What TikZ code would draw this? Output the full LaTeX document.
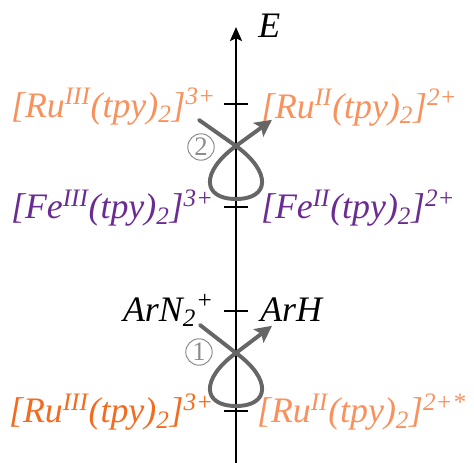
\documentclass[tikz,border=0pt]{standalone}
\usepackage{fontspec}
\setmainfont{Liberation Serif}
\usepackage{tikz}
\usetikzlibrary{positioning,arrows.meta}
\definecolor{rulight}{HTML}{F8915C}
\definecolor{rudark}{HTML}{F26B1F}
\definecolor{fepurple}{HTML}{6B2C91}
\definecolor{loopgray}{HTML}{666666}
\definecolor{numgray}{HTML}{8C8C8C}

\begin{document}
\begin{tikzpicture}[
  lbl/.style={inner sep=0pt, font=\fontsize{25.5}{30}\selectfont\itshape},
  tick/.style={line width=1.8pt},
  redox/.style={line width=2.8pt, loopgray, line cap=round,
                -{Stealth[length=12pt, width=12pt, inset=2.5pt]}},
  num/.style={circle, draw=numgray, line width=0.7pt, text=numgray,
              minimum size=0.66cm, inner sep=0pt, font=\fontsize{19}{20}\selectfont}
]
\useasboundingbox (0,0) rectangle (11.85,11.575);

% energy axis
\coordinate (bot) at (5.9,0);
\coordinate (top) at (5.9,10.9);
\draw[line width=1.8pt, -{Stealth[length=10pt, width=8.5pt, inset=2pt]}] (bot) -- (top);
\node[lbl, anchor=base west] (elab) at (6.45,10.625) {E};

% levels on the axis
\coordinate (ru) at (5.9,8.975);
\coordinate (fe) at (5.9,6.4);
\coordinate (ar) at (5.9,3.8);
\coordinate (rux) at (5.9,1.3);
\foreach \c in {ru,fe,ar,rux}
  \draw[tick] (\c) ++(-0.29,0) -- ++(0.58,0);

\node[lbl, rulight, anchor=base east] (ruox) at ([shift={(-0.5,-0.33)}]ru)
  {[Ru\textsuperscript{III}(tpy)\textsubscript{2}]\textsuperscript{3+}};
\node[lbl, rulight, anchor=base west] (rured) at ([shift={(0.62,-0.36)}]ru)
  {[Ru\textsuperscript{II}(tpy)\textsubscript{2}]\textsuperscript{2+}};
\node[lbl, fepurple, anchor=base east] (feox) at ([shift={(-0.55,-0.3)}]fe)
  {[Fe\textsuperscript{III}(tpy)\textsubscript{2}]\textsuperscript{3+}};
\node[lbl, fepurple, anchor=base west] (fered) at ([shift={(0.62,-0.3)}]fe)
  {[Fe\textsuperscript{II}(tpy)\textsubscript{2}]\textsuperscript{2+}};
\node[lbl, anchor=base east] (arn) at ([shift={(-0.55,-0.26)}]ar)
  {ArN\textsubscript{2}\textsuperscript{+}};
\node[lbl, anchor=base west] (arh) at ([shift={(0.6,-0.26)}]ar) {ArH};
\node[lbl, rudark, anchor=base east] (ruoxb) at ([shift={(-0.55,-0.3)}]rux)
  {[Ru\textsuperscript{III}(tpy)\textsubscript{2}]\textsuperscript{3+}};
\node[lbl, rulight, anchor=base west] (ruexc) at ([shift={(0.52,-0.3)}]rux)
  {[Ru\textsuperscript{II}(tpy)\textsubscript{2}]\textsuperscript{2+*}};

% step 2
\coordinate (s2) at (4.975,8.575);
\coordinate (x2) at (5.9,7.925);
\coordinate (b2) at (5.9,6.6);
\coordinate (e2) at (6.8,8.58);
\draw[redox] (s2) -- (x2) .. controls +(-36:1.1) and +(0.85,0) .. (b2)
  .. controls +(-0.85,0) and +(-144:1.1) .. (x2) -- (e2);
\node[num] (n2) at (5.025,7.9) {2};

% step 1
\coordinate (s1) at (5.0,3.45);
\coordinate (x1) at (5.9,2.75);
\coordinate (b1) at (5.9,1.425);
\coordinate (e1) at (6.8,3.43);
\draw[redox] (s1) -- (x1) .. controls +(-36:1.1) and +(0.85,0) .. (b1)
  .. controls +(-0.85,0) and +(-144:1.1) .. (x1) -- (e1);
\node[num] (n1) at (4.975,2.775) {1};
\end{tikzpicture}
\end{document}
